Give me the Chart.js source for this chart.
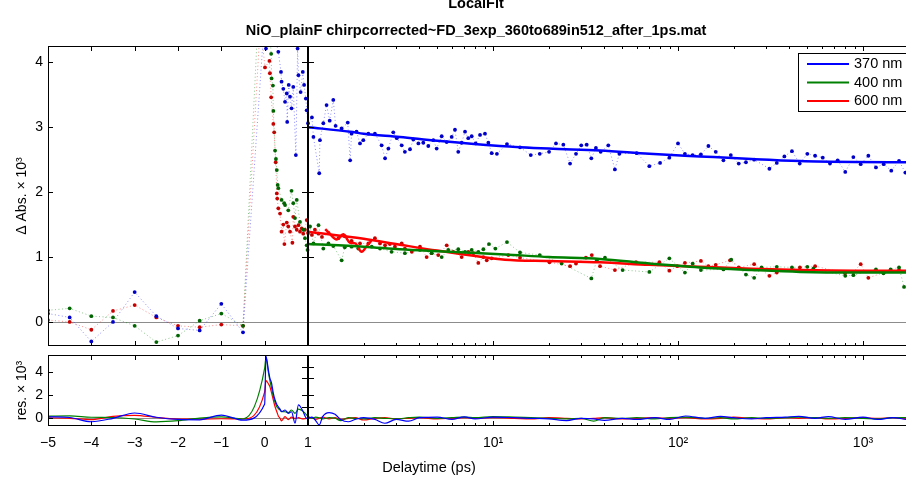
<!DOCTYPE html>
<html lang="en">
<head>
<meta charset="UTF-8">
<title>LocalFit</title>
<script src="https://cdn.jsdelivr.net/npm/chart.js@4.4.1/dist/chart.umd.min.js"></script>
<style>
    body { margin: 0; background: #fff; }
    #painel { position: relative; width: 906px; height: 481px; overflow: hidden; }
    canvas { display: block; }
</style>
</head>
<body>
<div id="painel">
    <canvas id="graficoPrincipal" width="906" height="350"></canvas>
    <canvas id="graficoResiduo" width="906" height="131"></canvas>
</div>

<script>
    // ---- dados (delay em ps, sinal x 10^3) ----
    const blueT = [-5, -4.5, -4, -3.5, -3, -2.5, -2, -1.5, -1, -0.5,
        0, 0.03, 0.1, 0.2, 0.315, 0.377, 0.39, 0.43, 0.47, 0.51, 0.52, 0.555, 0.585, 0.62, 0.66, 0.72, 0.76, 0.78, 0.83, 0.88, 0.91, 0.95, 0.97,
        1.00, 1.05, 1.07, 1.15, 1.16, 1.21, 1.26, 1.31, 1.37, 1.41, 1.52, 1.64, 1.69, 1.72, 1.83, 1.91, 1.99, 2.12, 2.30, 2.50,
        2.61, 2.72, 2.89, 3.02, 3.21, 3.34, 3.56, 3.71, 3.95, 4.20, 4.47, 4.76, 4.96, 5.28, 5.62, 5.98, 6.23, 6.49, 6.77, 7.06,
        7.35, 7.67, 8.06, 8.51, 9.05, 9.44, 9.84, 10.5, 11.9, 14.0, 16.0, 17.9, 20.1, 21.9, 24.0, 26.1, 28.1, 30.0, 32.1, 34.0,
        36.0, 38.2, 42.0, 45.6, 48.2, 59.8, 70.0, 80.0, 89.8, 100, 109, 120, 133, 146, 160, 176, 193, 213, 233, 258,
        312, 342, 376, 413, 455, 500, 551, 606, 663, 730, 802, 887, 972, 1069, 1175, 1294, 1422, 1566, 1694];
    const blueV = [0.13, 0.07, -0.30, 0.00, 0.46, 0.09, -0.10, -0.13, 0.28, -0.16,
        4.70, 4.21, 4.60, 4.50, 4.16, 3.85, 3.70, 3.59, 3.39, 3.52, 3.08, 3.65, 3.47, 3.29, 3.62, 2.57, 4.21, 3.80, 3.54, 3.85, 3.65, 3.44, 3.26,
        3.06, 3.15, 2.85, 2.29, 2.80, 3.06, 3.34, 3.10, 3.42, 3.02, 2.98, 3.07, 2.49, 2.90, 2.93, 2.75, 2.80, 2.90, 2.90, 2.72,
        2.52, 2.67, 2.92, 2.83, 2.72, 2.62, 2.66, 2.81, 2.75, 2.76, 2.71, 2.80, 2.67, 2.86, 2.77, 2.85, 2.96, 2.62, 2.76, 2.93,
        2.83, 2.86, 2.75, 2.88, 2.90, 2.76, 2.60, 2.59, 2.74, 2.69, 2.57, 2.59, 2.62, 2.75, 2.73, 2.44, 2.59, 2.72, 2.73, 2.52,
        2.68, 2.62, 2.72, 2.35, 2.59, 2.60, 2.40, 2.45, 2.53, 2.75, 2.59, 2.57, 2.58, 2.71, 2.62, 2.49, 2.57, 2.44, 2.46, 2.50,
        2.36, 2.45, 2.55, 2.63, 2.44, 2.59, 2.56, 2.53, 2.44, 2.49, 2.31, 2.54, 2.43, 2.56, 2.38, 2.43, 2.33, 2.48, 2.30];

    const greenT = [-5, -4.5, -4, -3.5, -3, -2.5, -2, -1.5, -1, -0.5,
        -0.15, 0, 0.1, 0.15, 0.16, 0.19, 0.2, 0.24, 0.26, 0.28, 0.30, 0.315, 0.39, 0.45, 0.47, 0.545, 0.62, 0.66, 0.70, 0.74,
        0.815, 0.89, 0.93, 0.97, 0.99,
        1.025, 1.07, 1.14, 1.21, 1.29, 1.37, 1.52, 1.58, 1.72, 1.87, 2.21, 2.45, 2.83, 3.34, 4.03, 4.66, 5.28, 5.73, 6.49, 7.06,
        7.67, 8.33, 8.87, 9.51, 10.3, 11.9, 14.0, 17.9, 23.5, 34.0, 36.4, 40.3, 50.2, 70.0, 89.8, 109, 120, 133, 176, 194,
        233, 258, 283, 342, 413, 500, 539, 802, 887, 1175, 1290, 1410, 1566, 1667];
    const greenV = [0.18, 0.21, 0.09, 0.07, -0.06, -0.31, -0.21, 0.02, 0.13, -0.06,
        4.70, 5.20, 4.60, 4.13, 3.75, 3.64, 3.25, 2.64, 2.51, 2.34, 2.11, 2.06, 1.88, 1.83, 1.80, 1.72, 2.02, 1.83, 1.60, 1.88,
        1.54, 1.42, 1.29, 1.18, 1.11,
        1.47, 1.21, 1.49, 1.13, 1.21, 1.17, 0.95, 1.15, 1.16, 1.13, 1.16, 1.13, 1.08, 1.06, 1.11, 1.06, 1.00, 1.11, 1.12, 1.08,
        1.11, 1.08, 1.12, 1.20, 1.13, 1.23, 1.07, 1.03, 0.90, 0.67, 0.95, 0.99, 0.80, 0.77, 0.98, 0.76, 0.90, 0.80, 0.81, 0.96,
        0.73, 0.68, 0.84, 0.85, 0.84, 0.85, 0.82, 0.71, 0.72, 0.81, 0.75, 0.81, 0.84, 0.54];

    const redT = [-5, -4.5, -4, -3.5, -3, -2.5, -2, -1.5, -1, -0.5,
        -0.1, 0.008, 0.11, 0.12, 0.15, 0.20, 0.22, 0.255, 0.28, 0.29, 0.315, 0.355, 0.39, 0.43, 0.455, 0.51, 0.545, 0.585, 0.64, 0.66,
        0.70, 0.74, 0.78, 0.815, 0.855, 0.89, 0.93, 0.97,
        1.00, 1.05, 1.09, 1.14, 1.19, 1.29, 1.46, 1.58, 1.72, 1.91, 2.12, 2.30, 2.45, 2.61, 2.77, 2.95, 3.21, 3.34, 3.64, 4.03,
        4.38, 4.66, 5.06, 5.62, 6.10, 6.77, 7.35, 7.83, 8.33, 8.87, 9.25, 9.84, 12.1, 14.0, 20.2, 26.1, 28.1, 31.8, 34.2, 37.9,
        45.6, 59.3, 79.3, 89.8, 99.1, 109, 133, 146, 160, 191, 213, 258, 312, 342, 456, 551, 800, 887, 972, 1069, 1294, 1566];
    const redV = [0.03, 0.00, -0.12, 0.17, 0.26, 0.07, -0.06, -0.08, -0.04, -0.06,
        4.60, 3.92, 4.02, 3.83, 3.46, 3.05, 2.92, 2.46, 1.98, 1.90, 1.75, 1.67, 1.39, 1.50, 1.20, 1.53, 1.47, 1.39, 1.22, 1.62,
        1.47, 1.42, 1.49, 1.39, 1.44, 1.36, 1.42, 1.57,
        1.37, 1.34, 1.42, 1.36, 1.31, 1.37, 1.29, 1.32, 1.25, 1.21, 1.21, 1.29, 1.21, 1.18, 1.20, 1.16, 1.21, 1.13, 1.08, 1.16,
        1.00, 1.06, 1.03, 1.18, 1.08, 1.00, 1.08, 1.06, 0.91, 1.00, 0.95, 0.98, 1.03, 0.99, 0.92, 0.86, 0.90, 0.99, 1.03, 0.86,
        0.80, 0.92, 0.92, 0.79, 0.86, 0.91, 0.94, 0.86, 0.88, 0.95, 0.84, 0.89, 0.71, 0.76, 0.84, 0.86, 0.75, 0.77, 0.89, 0.68, 0.76, 0.80];

    // curvas do ajuste (a partir de 1 ps)
    const blueFitT = [1, 1.69, 2, 3.14, 5, 10.9, 20, 37.9, 70, 131, 250, 457, 900, 1708];
    const blueFitV = [3.00, 2.93, 2.90, 2.85, 2.79, 2.71, 2.67, 2.64, 2.59, 2.55, 2.51, 2.48, 2.465, 2.46];
    const fitT = [1, 2, 3.14, 5, 11.6, 20, 37.9, 70, 131, 250, 457, 900, 1708];
    const greenFitV = [1.20, 1.16, 1.12, 1.09, 1.04, 1.00, 0.97, 0.90, 0.84, 0.80, 0.77, 0.76, 0.76];
    const redFitV = [1.39, 1.28, 1.19, 1.10, 0.96, 0.94, 0.92, 0.88, 0.85, 0.82, 0.80, 0.79, 0.79];
    const redJagT = [1.24, 1.31, 1.43, 1.55, 1.69, 1.80, 1.95, 2.08, 2.2];
    const redJagV = [1.43, 1.36, 1.27, 1.35, 1.22, 1.21, 1.08, 1.17, 1.25];

    // resíduos
    const resT = [-5, -4.5, -4, -3.5, -3, -2.5, -2, -1.5, -1, -0.5,
        0, 0.03, 0.085, 0.12, 0.16, 0.2, 0.24, 0.28, 0.315, 0.355, 0.39, 0.47, 0.545, 0.62, 0.7, 0.78, 0.87, 0.97,
        1.05, 1.1, 1.15, 1.2, 1.3, 1.4, 1.5, 1.65, 1.8, 2, 2.3, 2.6, 3, 3.5, 4, 5, 6, 7, 8, 10,
        13, 16, 20, 25, 30, 35, 40, 50, 60, 75, 90, 110, 140, 170, 200, 250, 300, 380, 450, 550,
        650, 800, 1000, 1200, 1450, 1708];
    const resBlue = [0.13, 0.07, -0.30, 0.00, 0.46, 0.09, -0.10, -0.13, 0.28, -0.16,
        1.25, 5.40, 4.20, 3.50, 3.04, 2.17, 1.59, 1.20, 1.00, 0.80, 0.57, 0.72, 0.43, 0.57, -0.43, 1.16, 0.72, 0.00,
        0.10, -0.20, -0.58, 0.14, 0.49, 0.35, -0.10, -0.30, -0.10, 0.05, -0.10, -0.43, -0.10, -0.25, 0.05, 0.10, -0.10, 0.12, -0.05, 0.10,
        0.05, 0.00, -0.05, -0.20, 0.00, -0.05, -0.18, 0.00, -0.10, 0.05, -0.10, 0.20, 0.00, 0.17, 0.05, -0.05, 0.05, 0.10, 0.17, 0.00,
        0.15, -0.10, 0.10, -0.10, 0.05, -0.10];
    const resGreen = [0.18, 0.21, 0.09, 0.07, -0.06, -0.31, -0.21, 0.02, 0.13, -0.06,
        4.35, 5.30, 4.00, 3.30, 2.60, 1.88, 1.40, 1.00, 0.85, 0.72, 0.60, 0.57, 0.50, 0.72, 0.43, 0.80, 0.66, 0.29,
        0.00, 0.10, 0.05, -0.05, 0.05, 0.00, -0.20, 0.05, 0.00, -0.05, 0.05, 0.00, -0.05, 0.05, 0.10, 0.00, 0.05, 0.10, 0.05, 0.15,
        0.10, 0.05, 0.00, -0.05, 0.00, -0.25, 0.05, 0.00, 0.05, -0.05, 0.05, 0.10, 0.00, 0.05, -0.05, 0.05, 0.00, 0.05, 0.10, 0.05,
        0.00, 0.05, 0.00, -0.05, 0.05, 0.05];
    const resRed = [0.03, 0.00, -0.12, 0.17, 0.26, 0.07, -0.06, -0.08, -0.04, -0.06,
        2.30, 3.27, 3.00, 2.75, 2.20, 1.59, 1.00, 0.57, 0.20, 0.00, -0.23, 0.14, -0.12, 0.10, 0.00, 0.05, -0.05, 0.00,
        0.05, -0.10, 0.00, 0.10, -0.05, 0.05, -0.10, 0.00, 0.05, -0.15, 0.00, 0.05, -0.05, 0.00, 0.05, -0.05, 0.00, 0.05, 0.00, 0.05,
        0.00, -0.05, 0.05, 0.00, -0.05, 0.00, 0.05, -0.05, 0.00, 0.05, 0.00, 0.05, -0.05, 0.00, 0.10, 0.00, -0.05, 0.05, 0.00, 0.05,
        -0.05, 0.00, 0.05, 0.00, 0.05, -0.05];

    // ticks
    const xTicks = [-5, -4, -3, -2, -1, 0, 1, 2, 3, 4, 5, 6, 7, 8, 9, 10, 20, 30, 40, 50, 60, 70, 80, 90,
        100, 200, 300, 400, 500, 600, 700, 800, 900, 1000];
    const yTicksPrincipal = [0, 1, 2, 3, 4];
    const yTicksResiduo = [0, 2, 4];
    const potencias = { 10: '10¹', 100: '10²', 1000: '10³' };

    function rotuloX(v) {
        if (v <= 1) return v < 0 ? '\u2212' + Math.abs(v) : String(v);
        return potencias[v] || '';
    }

    // ---- eixo x quebrado: linear de -5 a 1 ps, log depois ----
    const QUEBRA = 1;
    const FRACAO_LINEAR = 260 / 858;

    class EixoQuebrado extends Chart.LinearScale {
        static id = 'quebrado';
        static defaults = {};

        determineDataLimits() {
            this.min = this.options.min;
            this.max = this.options.max;
        }
        buildTicks() {
            return xTicks.map(v => ({ value: v }));
        }
        fracao(v) {
            if (v <= QUEBRA) return (v - this.min) / (QUEBRA - this.min) * FRACAO_LINEAR;
            return FRACAO_LINEAR + Math.log10(v / QUEBRA) / Math.log10(this.max / QUEBRA) * (1 - FRACAO_LINEAR);
        }
        getPixelForValue(v) {
            return this.getPixelForDecimal(this.fracao(v));
        }
        getValueForPixel(p) {
            const d = this.getDecimalForPixel(p);
            if (d <= FRACAO_LINEAR) return this.min + d / FRACAO_LINEAR * (QUEBRA - this.min);
            return QUEBRA * Math.pow(this.max / QUEBRA, (d - FRACAO_LINEAR) / (1 - FRACAO_LINEAR));
        }
    }
    Chart.register(EixoQuebrado);

    Chart.defaults.font.family = "'Liberation Sans', Arial, sans-serif";
    Chart.defaults.font.size = 14;
    Chart.defaults.color = '#000';

    // moldura estilo matlab: ticks para dentro, linha do zero, quebra, legenda e textos
    const molduraMatlab = {
        id: 'molduraMatlab',
        beforeDatasetsDraw(chart) {
            const { ctx, chartArea: a, scales: { y } } = chart;
            const y0 = Math.round(y.getPixelForValue(0)) + 0.5;
            ctx.save();
            ctx.strokeStyle = '#8c8c8c';
            ctx.lineWidth = 1;
            ctx.beginPath();
            ctx.moveTo(a.left, y0);
            ctx.lineTo(a.right, y0);
            ctx.stroke();
            ctx.restore();
        },
        afterDatasetsDraw(chart, args, opts) {
            const { ctx, chartArea: a, scales: { x, y } } = chart;
            ctx.save();
            ctx.strokeStyle = '#000';
            ctx.lineWidth = 1;
            ctx.beginPath();
            ctx.moveTo(a.right, a.top + 0.5);
            ctx.lineTo(a.left + 0.5, a.top + 0.5);
            ctx.lineTo(a.left + 0.5, a.bottom - 0.5);
            ctx.lineTo(a.right, a.bottom - 0.5);

            xTicks.forEach(v => {
                const px = Math.round(x.getPixelForValue(v)) + 0.5;
                const len = rotuloX(v) ? 5 : 3;
                ctx.moveTo(px, a.top);
                ctx.lineTo(px, a.top + len);
                ctx.moveTo(px, a.bottom);
                ctx.lineTo(px, a.bottom - len);
            });
            opts.yTicks.forEach(v => {
                const py = Math.round(y.getPixelForValue(v)) + 0.5;
                ctx.moveTo(a.left, py);
                ctx.lineTo(a.left + 5, py);
            });
            const xb = Math.round(x.getPixelForValue(QUEBRA));
            opts.ticksQuebra.forEach(v => {
                const py = Math.round(y.getPixelForValue(v)) + 0.5;
                ctx.moveTo(xb - 6, py);
                ctx.lineTo(xb + 6, py);
            });
            ctx.stroke();

            ctx.lineWidth = 2;
            ctx.beginPath();
            ctx.moveTo(xb, a.top);
            ctx.lineTo(xb, a.bottom);
            ctx.stroke();

            if (opts.legenda) {
                const L = opts.legenda;
                ctx.fillStyle = '#fff';
                ctx.fillRect(L.x, L.y, L.w, L.h);
                ctx.lineWidth = 1;
                ctx.strokeStyle = '#000';
                ctx.strokeRect(L.x + 0.5, L.y + 0.5, L.w, L.h);
                const itens = chart.data.datasets.filter(d => d.legenda);
                itens.forEach((d, i) => {
                    const yy = L.y + L.primeira + i * L.passo;
                    ctx.strokeStyle = d.borderColor;
                    ctx.lineWidth = 2;
                    ctx.beginPath();
                    ctx.moveTo(L.x + 9, yy);
                    ctx.lineTo(L.x + 51, yy);
                    ctx.stroke();
                    ctx.fillStyle = '#000';
                    ctx.font = "14.5px 'Liberation Sans', Arial, sans-serif";
                    ctx.textAlign = 'left';
                    ctx.textBaseline = 'middle';
                    ctx.fillText(d.label, L.x + 56, yy);
                });
            }

            (opts.textos || []).forEach(t => {
                ctx.fillStyle = '#000';
                ctx.font = (t.negrito ? 'bold ' : '') + "14.5px 'Liberation Sans', Arial, sans-serif";
                ctx.textAlign = 'center';
                ctx.textBaseline = 'middle';
                ctx.fillText(t.texto, t.x, t.y);
            });
            ctx.restore();
        }
    };

    function pares(t, v) {
        return t.map((ti, i) => ({ x: ti, y: v[i] }));
    }

    function pontos(t, v, corPonto, corTracejado) {
        return {
            data: pares(t, v),
            borderColor: corTracejado,
            borderWidth: 1,
            borderDash: [1, 2.5],
            pointRadius: 1.9,
            pointBorderWidth: 0,
            pointBackgroundColor: corPonto,
            order: 3
        };
    }

    function ajuste(label, t, v, cor, naLegenda) {
        return {
            label: label,
            legenda: naLegenda,
            data: pares(t, v),
            borderColor: cor,
            borderWidth: 2.5,
            pointRadius: 0,
            cubicInterpolationMode: 'monotone',
            order: 1
        };
    }

    function residuo(v, cor) {
        return {
            data: pares(resT, v),
            borderColor: cor,
            borderWidth: 1.2,
            pointRadius: 0,
            cubicInterpolationMode: 'monotone'
        };
    }

    // eixo y com largura fixa e sem padding automático
    const eixoY = (min, max, ticks, titulo) => ({
        min: min,
        max: max,
        afterBuildTicks: s => { s.ticks = ticks.map(v => ({ value: v })); },
        ticks: { padding: 5 },
        grid: { display: false, drawTicks: false },
        border: { display: false },
        title: { display: true, text: titulo, padding: { top: 14, bottom: 0 } },
        afterFit: s => {
            s.width = 48;
            s.paddingTop = 0;
            s.paddingBottom = 0;
        }
    });

    const eixoX = (altura, mostrarRotulos) => ({
        type: 'quebrado',
        min: -5,
        max: 1708,
        ticks: { display: mostrarRotulos, autoSkip: false, maxRotation: 0, minRotation: 0, padding: 9, callback: v => rotuloX(v) },
        grid: { display: false, drawTicks: false },
        border: { display: false },
        afterFit: s => {
            s.height = altura;
            s.paddingLeft = 0;
            s.paddingRight = 0;
        }
    });

    // Gráfico principal
    const configPrincipal = {
        type: 'line',
        data: {
            datasets: [
                pontos(blueT, blueV, '#0000c8', 'rgba(0,0,255,0.45)'),
                pontos(greenT, greenV, '#006400', 'rgba(0,128,0,0.45)'),
                pontos(redT, redV, '#c80000', 'rgba(255,0,0,0.45)'),
                ajuste('370 nm', blueFitT, blueFitV, '#0000ff', true),
                ajuste('400 nm', fitT, greenFitV, '#008000', true),
                ajuste('600 nm', fitT, redFitV, '#ff0000', true),
                ajuste('', redJagT, redJagV, '#ff0000', false)
            ]
        },
        options: {
            responsive: false,
            animation: false,
            events: [],
            layout: { padding: { top: 46, left: 0, right: 0, bottom: 0 }, autoPadding: false },
            plugins: {
                legend: { display: false },
                tooltip: { enabled: false },
                molduraMatlab: {
                    yTicks: yTicksPrincipal,
                    ticksQuebra: [1, 2, 3, 4],
                    legenda: { x: 798, y: 53, w: 120, h: 58, primeira: 11, passo: 18.5 },
                    textos: [
                        { texto: 'LocalFit', x: 476, y: 4, negrito: true },
                        { texto: 'NiO_plainF chirpcorrected~FD_3exp_360to689in512_after_1ps.mat', x: 476, y: 31, negrito: true }
                    ]
                }
            },
            scales: {
                x: eixoX(4, false),
                y: eixoY(-0.37, 4.25, yTicksPrincipal, 'Δ Abs. × 10³')
            }
        },
        plugins: [molduraMatlab]
    };

    const GraficoPrincipal = new Chart(document.getElementById('graficoPrincipal'), configPrincipal);

    // Gráfico de resíduos
    const configResiduo = {
        type: 'line',
        data: {
            datasets: [
                residuo(resBlue, '#0000ff'),
                residuo(resGreen, '#008000'),
                residuo(resRed, '#ff0000')
            ]
        },
        options: {
            responsive: false,
            animation: false,
            events: [],
            layout: { padding: { top: 5, left: 0, right: 0, bottom: 0 }, autoPadding: false },
            plugins: {
                legend: { display: false },
                tooltip: { enabled: false },
                molduraMatlab: {
                    yTicks: yTicksResiduo,
                    ticksQuebra: [1, 2, 3.5, 4.5],
                    textos: [{ texto: 'Delaytime (ps)', x: 429, y: 118 }]
                }
            },
            scales: {
                x: eixoX(55, true),
                y: eixoY(-0.67, 5.5, yTicksResiduo, 'res. × 10³')
            }
        },
        plugins: [molduraMatlab]
    };

    const GraficoResiduo = new Chart(document.getElementById('graficoResiduo'), configResiduo);
</script>
</body>
</html>
